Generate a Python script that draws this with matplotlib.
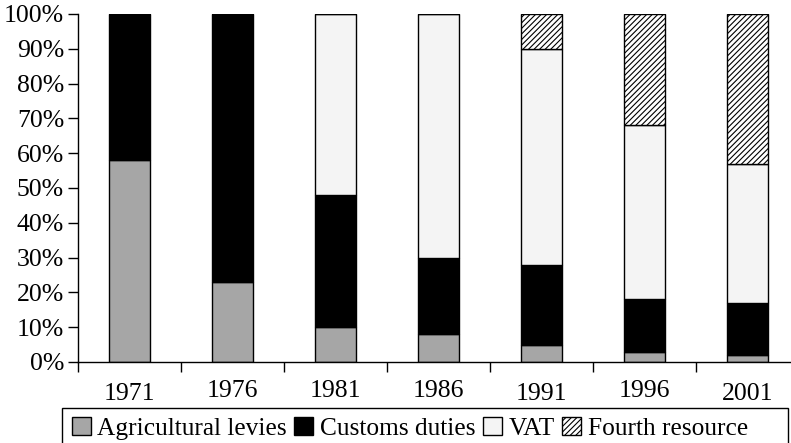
import matplotlib

matplotlib.use("Agg")
import matplotlib.pyplot as plt
import numpy as np
from matplotlib.patches import Rectangle
from matplotlib.ticker import FixedLocator, FuncFormatter
from matplotlib.transforms import ScaledTranslation

years = ["1971", "1976", "1981", "1986", "1991", "1996", "2001"]
agricultural = [58, 23, 10, 8, 5, 3, 2]
customs = [42, 77, 38, 22, 23, 15, 15]
vat = [0, 0, 52, 70, 62, 50, 40]
fourth = [0, 0, 0, 0, 10, 32, 43]

plt.rcParams["font.family"] = ["Liberation Serif", "DejaVu Serif"]
plt.rcParams["hatch.linewidth"] = 0.8

W, H = 791, 443
fig = plt.figure(figsize=(W / 100, H / 100), dpi=100)
ax = fig.add_axes([78 / W, 81 / H, 721 / W, 348 / H])

x = np.arange(len(years))
series = [
    ("Agricultural levies", agricultural, "#a6a6a6", None),
    ("Customs duties", customs, "#000000", None),
    ("VAT", vat, "#f4f4f4", None),
    ("Fourth resource", fourth, "#ffffff", "//////"),
]
bottom = np.zeros(len(years))
for name, vals, color, hatch in series:
    vals = np.asarray(vals, dtype=float)
    ax.bar(x, vals, width=0.4, bottom=bottom, color=color, edgecolor="black",
           linewidth=1.0, hatch=hatch, label=name)
    bottom += vals

ax.set_xlim(-0.5, len(years) - 0.5)
ax.set_ylim(0, 100)
ax.set_yticks(range(0, 101, 10))
ax.yaxis.set_major_formatter(FuncFormatter(lambda v, _: f"{v:.0f}%"))
ax.set_xticks(x)
ax.set_xticklabels(years)
ax.xaxis.set_minor_locator(FixedLocator(np.arange(-0.5, len(years), 1.0)))
ax.tick_params(axis="x", which="major", length=0, pad=13, labelsize=18.5)
ax.tick_params(axis="x", which="minor", length=7, width=1.0, direction="out")
ax.tick_params(axis="y", length=7, width=1.0, labelsize=18.5, pad=3)

# a few year labels sit a little lower than their neighbours
for i in (0, 4, 6):
    lbl = ax.get_xticklabels()[i]
    lbl.set_transform(lbl.get_transform()
                      + ScaledTranslation(0, -3 / 100, fig.dpi_scale_trans))

for side in ("top", "right"):
    ax.spines[side].set_visible(False)
for side in ("left", "bottom"):
    ax.spines[side].set_linewidth(1.0)

fig.legend(loc="upper left", bbox_to_anchor=(64 / W, 1 - 409 / H),
           ncol=4, fontsize=18.3, frameon=False,
           handlelength=0.75, handleheight=0.75,
           handletextpad=0.25, columnspacing=0.3, borderpad=0.3,
           borderaxespad=0)
# legend box runs out to the right edge and past the bottom
fig.add_artist(Rectangle((62 / W, -0.02), 726 / W, 1 - 408 / H + 0.02,
                         transform=fig.transFigure, fill=False,
                         edgecolor="black", linewidth=1.0))

fig.savefig("out.png")
